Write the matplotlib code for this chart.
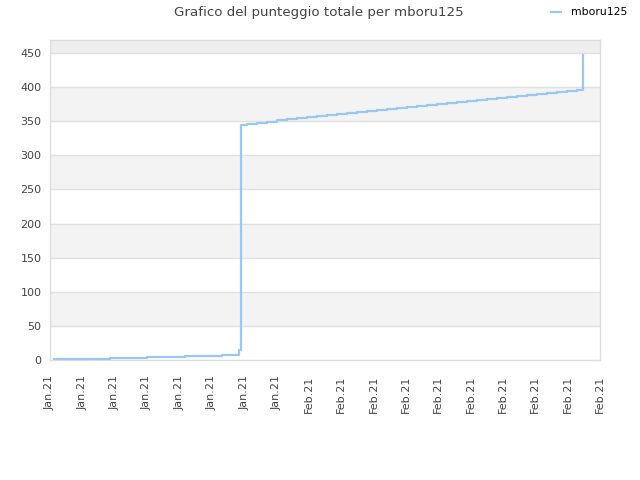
import matplotlib
matplotlib.use("Agg")
import matplotlib.pyplot as plt

# day offsets from the first tick (ticks every 2 days) and total score
days_early = [0.25, 1.42, 3.71, 6.00, 8.35, 10.63, 11.70, 11.78]
score_early = [1, 2, 3.5, 5, 6.5, 8, 15, 345]

days_late = [12.16, 12.78, 13.40, 14.02, 14.64, 15.25, 15.87, 16.49, 17.11,
             17.73, 18.35, 18.97, 19.58, 20.20, 20.82, 21.44, 22.06, 22.68,
             23.29, 23.91, 24.53, 25.15, 25.77, 26.39, 27.01, 27.62, 28.24,
             28.86, 29.48, 30.10, 30.72, 31.34, 31.95, 32.57, 32.95, 32.97]
score_late = [346.5, 348, 349.5, 351, 352.5, 354, 355.5, 357, 358.5, 360,
              361.5, 363, 364.5, 366, 367.5, 369, 370.5, 372, 373.5, 375,
              376.5, 378, 379.5, 381, 382.5, 384, 385.5, 387, 388.5, 390,
              391.5, 393, 394, 395, 395, 447]

days = days_early + days_late
score = score_early + score_late

tick_labels = ['Jan.21'] * 8 + ['Feb.21'] * 10
tick_days = [2 * i for i in range(len(tick_labels))]
y_ticks = [0, 50, 100, 150, 200, 250, 300, 350, 400, 450]

fig = plt.figure(figsize=(6.4, 4.8), dpi=100)
ax = fig.add_axes([0.078, 0.25, 0.8595, 0.6667])

y_top = 469
# alternating bands
for lo in [50, 150, 250, 350]:
    ax.axhspan(lo, lo + 50, color='#f3f3f3', zorder=0, lw=0)
ax.axhspan(450, y_top, color='#eeeeee', zorder=0, lw=0)
for y in y_ticks[1:]:
    ax.axhline(y, color='#e0e0e0', lw=1, zorder=1)

ax.plot(days, score, drawstyle='steps-post', color='#99c8f5', lw=1.6,
        label='mboru125', zorder=3)

ax.set_xlim(0, 34)
ax.set_ylim(0, y_top)
ax.set_yticks(y_ticks)
ax.set_xticks(tick_days)
ax.set_xticklabels(tick_labels, rotation=90)
ax.tick_params(axis='both', length=0, labelsize=8, colors='#444444')
ax.tick_params(axis='x', pad=11)
ax.tick_params(axis='y', pad=6)

for s in ax.spines.values():
    s.set_color('#dddddd')
    s.set_linewidth(1)

fig.text(0.4977, 0.974, 'Grafico del punteggio totale per mboru125',
         ha='center', va='center', fontsize=9.6, color='#444444')
ax.legend(frameon=False, fontsize=7.8, handlelength=1.0, handletextpad=0.9)
leg = ax.get_legend()
leg.set_bbox_to_anchor((0.845, 0.924, 0.15, 0.1), transform=fig.transFigure)
leg._loc = 6  # center left

fig.savefig('out.png', dpi=100)
